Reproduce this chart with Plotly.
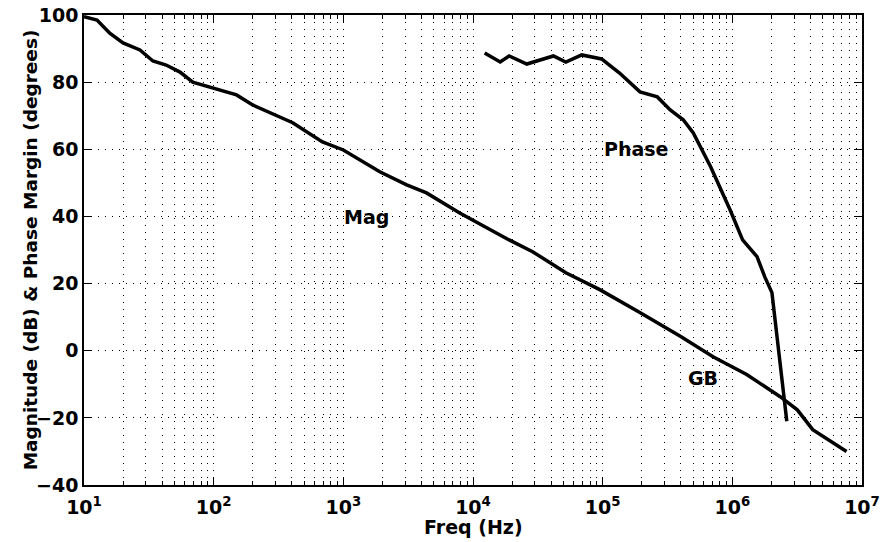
import math
import plotly.graph_objects as go

# ---- data ----
mag_freq = [10, 12.6, 15.8, 20, 27, 34, 43, 55, 69, 100, 150, 200, 325, 407, 690,
            1000, 1910, 3080, 4380, 7900, 19000, 28800, 52000, 95000, 195000,
            400000, 710000, 1290000, 2340000, 3170000, 4170000, 7600000]
mag_db = [99.5, 98.5, 94.6, 91.7, 89.6, 86.3, 85.1, 83.0, 80.0, 78.3, 76.2, 73.2, 69.6, 67.9, 62.2,
          59.8, 53.3, 49.4, 47.0, 41.0, 33.0, 29.5, 23.2, 18.2, 11.3,
          4.2, -1.8, -7.1, -13.7, -17.6, -23.5, -30.0]

phase_freq = [12300, 16200, 19000, 26000, 41700, 52000, 69000, 98000, 135000, 194000,
              264000, 332000, 418000, 500000, 680000, 960000, 1200000, 1550000,
              1780000, 2020000, 2630000]
phase_deg = [88.7, 86.0, 87.8, 85.4, 87.8, 86.0, 88.1, 86.9, 82.7, 77.1,
             75.6, 71.7, 68.8, 64.9, 54.8, 42.0, 33.0, 28.0,
             22.0, 17.3, -21.0]

x_tick_vals = [10, 100, 1000, 10000, 100000, 1000000, 10000000]
x_tick_text = ["10<sup>%d</sup>" % k for k in range(1, 8)]
y_tick_vals = [-40, -20, 0, 20, 40, 60, 80, 100]

labels = [("Mag", 1520, 39.9), ("Phase", 182000, 60.1), ("GB", 597000, -8.0)]

FONT = "DejaVu Sans"

fig = go.Figure()
fig.add_trace(go.Scatter(x=mag_freq, y=mag_db, mode="lines",
                         line=dict(color="black", width=3.5), showlegend=False))
fig.add_trace(go.Scatter(x=phase_freq, y=phase_deg, mode="lines",
                         line=dict(color="black", width=3.5), showlegend=False))

for txt, xv, yv in labels:
    # annotations on a log axis take log10 positions
    fig.add_annotation(x=math.log10(xv), y=yv, xref="x", yref="y", text=txt,
                       showarrow=False,
                       font=dict(family=FONT, size=19, color="black", weight="bold"))

# axis titles as annotations for precise placement
fig.add_annotation(x=0.5, y=-0.062, xref="paper", yref="paper", yanchor="top",
                   text="Freq (Hz)", showarrow=False,
                   font=dict(family=FONT, size=19, color="black", weight="bold"))
fig.add_annotation(x=-0.085, y=0.5, xref="paper", yref="paper", textangle=-90,
                   text="Magnitude (dB) & Phase Margin (degrees)", showarrow=False,
                   font=dict(family=FONT, size=18.5, color="black", weight="bold"))

fig.update_xaxes(type="log", range=[1, 7], tickvals=x_tick_vals, ticktext=x_tick_text,
                 automargin=False,
                 showline=True, linecolor="black", linewidth=1.5, mirror="ticks",
                 ticks="inside", ticklen=7, tickwidth=1.2, tickcolor="black",
                 showgrid=True, gridcolor="black", gridwidth=1, griddash="1px,6px",
                 zeroline=False, ticklabelstandoff=4,
                 tickfont=dict(family=FONT, size=19, color="black", weight="bold"),
                 minor=dict(dtick="D1", ticks="inside", ticklen=4, tickcolor="black",
                            showgrid=True, gridcolor="black", gridwidth=1, griddash="1px,6px"))
fig.update_yaxes(range=[-40, 100], tickvals=y_tick_vals, automargin=False,
                 showline=True, linecolor="black", linewidth=1.5, mirror="ticks",
                 ticks="inside", ticklen=7, tickwidth=1.2, tickcolor="black",
                 showgrid=True, gridcolor="black", gridwidth=1, griddash="1px,6px",
                 zeroline=False,
                 tickfont=dict(family=FONT, size=19, color="black", weight="bold"))

fig.update_layout(width=881, height=542, plot_bgcolor="white", paper_bgcolor="white",
                  margin=dict(l=84, r=19, t=15, b=57),
                  font=dict(family=FONT, color="black"))

fig.write_html("out.html", config={"displayModeBar": False},
               post_script="document.body.style.margin='0';document.body.style.overflow='hidden';")
